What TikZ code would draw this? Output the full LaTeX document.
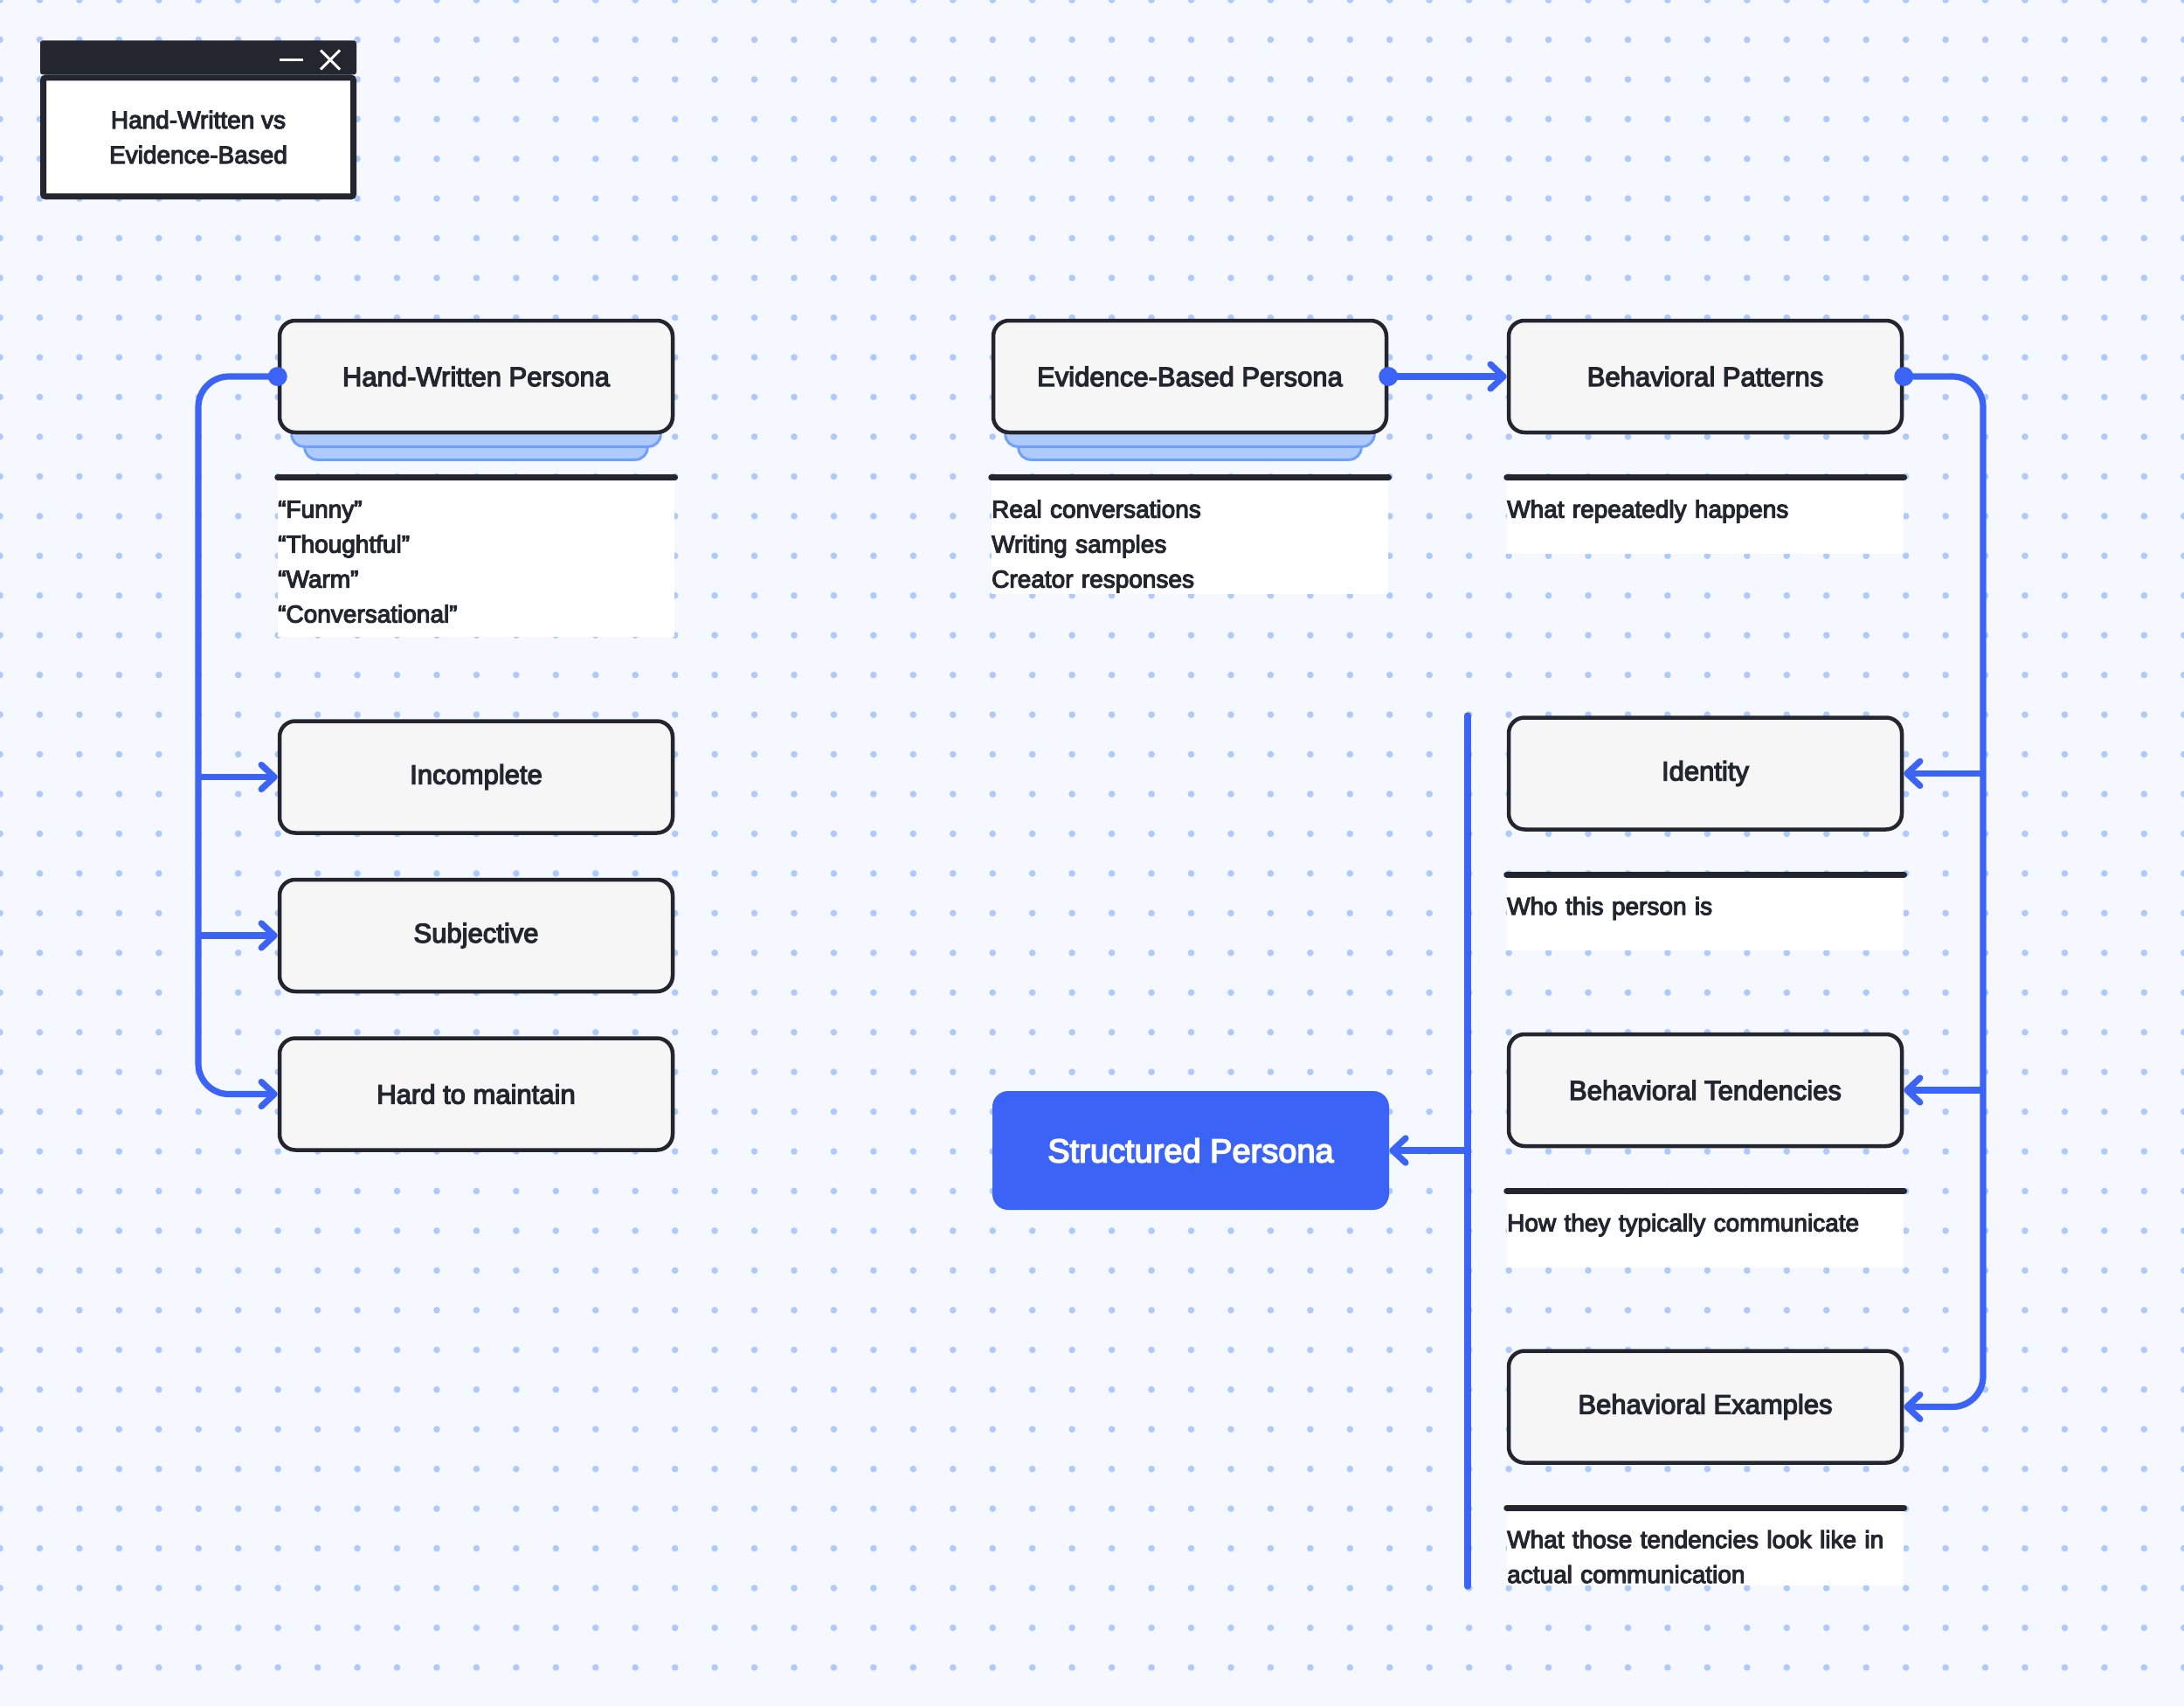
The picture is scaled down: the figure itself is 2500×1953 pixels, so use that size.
\documentclass[tikz,border=0pt]{standalone}
\usepackage{fontspec}
\setmainfont{Liberation Sans}[FakeBold=4]
\usepackage{xcolor}
\usepackage{tikz}
\usetikzlibrary{
    positioning,
    calc,
    arrows.meta,
    backgrounds
}
\definecolor{pagebg}{HTML}{F5F8FE}
\definecolor{dotc}{HTML}{AFC9FA}
\definecolor{accent}{HTML}{3B63F6}
\definecolor{ink}{HTML}{23262F}
\definecolor{boxfill}{HTML}{F5F6F5}
\definecolor{stackfill}{HTML}{AECBFC}
\definecolor{stackline}{HTML}{72A0F9}
\tikzset{
  persona/.style = {
      draw=ink,
      line width=2.25pt,
      fill=boxfill,
      rounded corners=9pt,
      minimum width=225pt,
      minimum height=64pt,
      text=ink,
      font=\fontsize{15.5}{19}\selectfont
  },
  hub/.style = {
      fill=accent,
      rounded corners=9pt,
      minimum width=227pt,
      minimum height=68pt,
      text=white,
      font=\fontsize{19}{23}\selectfont
  },
  note/.style = {
      fill=white,
      inner xsep=0pt,
      inner ysep=0pt,
      text width=227pt,
      align=left,
      text height=21pt,
      text=ink,
      font=\fontsize{14}{20}\selectfont
  },
  notebar/.style = {
      draw=ink,
      line width=3.5pt,
      line cap=round
  },
  window/.style = {
      draw=ink,
      line width=3.5pt,
      fill=white,
      rounded corners=1.5pt,
      minimum width=177.5pt,
      minimum height=68pt,
      align=center,
      text=ink,
      font=\fontsize{14}{20}\selectfont
  },
  link/.style = {
      draw=accent,
      line width=3.6pt,
      rounded corners=17.5pt,
      -{Straight Barb[length=7.5pt, width=14pt, round]}
  },
  branch/.style = {
      link,
      sharp corners
  },
  bus/.style = {
      draw=accent,
      line width=3.6pt,
      line cap=round
  },
  stack/.style = {
      draw=stackline,
      line width=1.5pt,
      fill=stackfill,
      rounded corners=7pt
  }
}

\begin{document}
\begin{tikzpicture}[x=0.5pt, y=-0.5pt]
    \useasboundingbox (0,0) rectangle (2500,1953);
    \begin{scope}[on background layer]
        \fill[pagebg] (0,0) rectangle (2500,1953);
        \foreach \i in {0,...,55}
            \foreach \j in {0,...,42}
                \fill[dotc] (\i*45.45, \j*45.45) circle (1.9pt);
    \end{scope}

    % Title window
    \node[window] (title) at (227,157) {Hand-Written vs\\Evidence-Based};
    \fill[ink, rounded corners=1.5pt] (title.north west) rectangle ([yshift=19.5pt]title.north east);
    \draw[white, line width=1.5pt] ($(title.north east)+(-88,-17)$) -- ($(title.north east)+(-61,-17)$);
    \draw[white, line width=1.5pt] ($(title.north east)+(-41,-28)$) -- ($(title.north east)+(-19,-6)$);
    \draw[white, line width=1.5pt] ($(title.north east)+(-41,-6)$) -- ($(title.north east)+(-19,-28)$);

    % Hand-written side
    \node[persona] (hw) at (545,431) {Hand-Written Persona};
    \node[note, text depth=68pt, below right=26.5pt and 0pt of hw.south west] (hwnote)
        {“Funny”\\“Thoughtful”\\“Warm”\\“Conversational”};
    \node[persona, below=163pt of hw] (inc) {Incomplete};
    \node[persona, below=24.5pt of inc] (subj) {Subjective};
    \node[persona, below=24.5pt of subj] (hard) {Hard to maintain};

    % Evidence side
    \node[persona] (ev) at (1362,431) {Evidence-Based Persona};
    \node[note, text depth=43.5pt, below right=26.5pt and 0pt of ev.south west] (evnote)
        {Real conversations\\Writing samples\\Creator responses};
    \node[persona, right=67.75pt of ev] (bp) {Behavioral Patterns};
    \node[note, text depth=20.5pt, below right=26.5pt and 0pt of bp.south west] (bpnote)
        {What repeatedly happens};
    \node[persona, below=161pt of bp] (ident) {Identity};
    \node[note, text depth=20.5pt, below right=26.5pt and 0pt of ident.south west] (idnote)
        {Who this person is};
    \node[persona, below=115pt of ident] (tend) {Behavioral Tendencies};
    \node[note, text depth=20.5pt, below right=26.5pt and 0pt of tend.south west] (tendnote)
        {How they typically communicate};
    \node[persona, below=115pt of tend] (exmp) {Behavioral Examples};
    \node[note, text depth=21.5pt, below right=26.5pt and 0pt of exmp.south west] (exnote)
        {What those tendencies look like in\\actual communication};
    \node[hub] (sp) at (1363,1317) {Structured Persona};

    \foreach \n in {hwnote, evnote, bpnote, idnote, tendnote, exnote}
        \draw[notebar] ([yshift=1.75pt]\n.north west) -- ([yshift=1.75pt]\n.north east);

    % Stacked cards
    \begin{scope}[on background layer]
        \foreach \n in {hw, ev} {
            \draw[stack] ([xshift=15.5pt, yshift=10pt]\n.south west) rectangle ([xshift=-15.5pt, yshift=-14.5pt]\n.south east);
            \draw[stack] ([xshift=8pt, yshift=10pt]\n.south west) rectangle ([xshift=-8pt, yshift=-7pt]\n.south east);
        }
    \end{scope}

    % Edges
    \coordinate (lbus) at (227,800);
    \coordinate (rbus) at (2270,1000);
    \coordinate (spinetop) at (1680,819);
    \coordinate (spinebot) at (1680,1816);

    \draw[link] (hw.west) -| (lbus |- hard.west) -- (hard.west);
    \draw[branch] (lbus |- inc.west) -- (inc.west);
    \draw[branch] (lbus |- subj.west) -- (subj.west);
    \fill[accent] (hw.west) circle (5.5pt);

    \draw[link] (ev.east) -- (bp.west);
    \fill[accent] (ev.east) circle (5.5pt);

    \draw[link] (bp.east) -| (rbus |- exmp.east) -- (exmp.east);
    \draw[branch] (rbus |- ident.east) -- (ident.east);
    \draw[branch] (rbus |- tend.east) -- (tend.east);
    \fill[accent] (bp.east) circle (5.5pt);

    \draw[bus] (spinetop) -- (spinebot);
    \draw[branch] (spinetop |- sp.east) -- (sp.east);
\end{tikzpicture}
\end{document}
